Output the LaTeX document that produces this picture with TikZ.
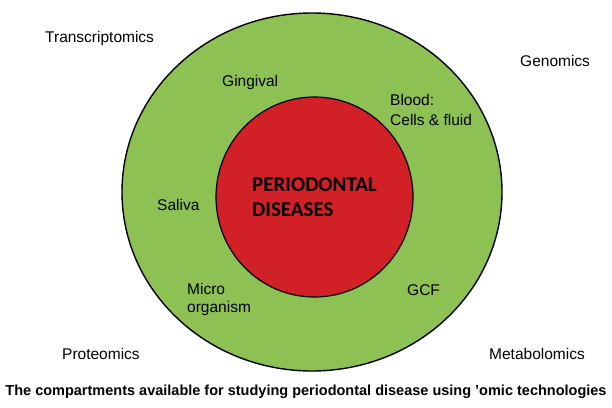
\documentclass[tikz,border=0pt]{standalone}
\usepackage{fontspec}
\setmainfont{Liberation Sans}
\newfontfamily\corefont{Carlito}
\definecolor{ringgreen}{RGB}{142,193,84}
\definecolor{corered}{RGB}{210,32,39}
\begin{document}
\begin{tikzpicture}[x=1pt,y=-1pt,every node/.style={font=\fontsize{15.5}{18}\selectfont,inner sep=0pt,align=left},
  lbl/.style={anchor=west},core/.style={anchor=west,font=\corefont\bfseries\fontsize{21}{25}\selectfont}]
\useasboundingbox (0,0) rectangle (612,407); \fill[white] (0,0) rectangle (612,407);
\draw[line width=1.4pt,fill=ringgreen] (312,192) ellipse [x radius=190,y radius=179];
\draw[line width=1.2pt,fill=corered] (314.5,197) ellipse [x radius=98.5,y radius=100];
% omics around the ring
\node[lbl] (transcr) at (45,38) {Transcriptomics}; \node[lbl] (genom) at (520,61) {Genomics};
\node[lbl] (proteo) at (62,354) {Proteomics}; \node[lbl] (metabo) at (489,354) {Metabolomics};
% compartments
\node[lbl] (gingival) at (222,82) {Gingival}; \node[lbl,font=\fontsize{15.5}{20}\selectfont] (blood) at (390,110) {Blood:\\Cells \& fluid};
\node[lbl] (saliva) at (157,205) {Saliva}; \node[lbl] (micro) at (187,299) {Micro\\organism};
\node[lbl] (gcf) at (407,290) {GCF};
\node[core] (disease) at (252,197.5) {PERIODONTAL\\DISEASES};
\node[font=\bfseries\fontsize{14.5}{16}\selectfont] (caption) at (306,392) {The compartments available for studying periodontal disease using 'omic technologies};
\end{tikzpicture}
\end{document}
